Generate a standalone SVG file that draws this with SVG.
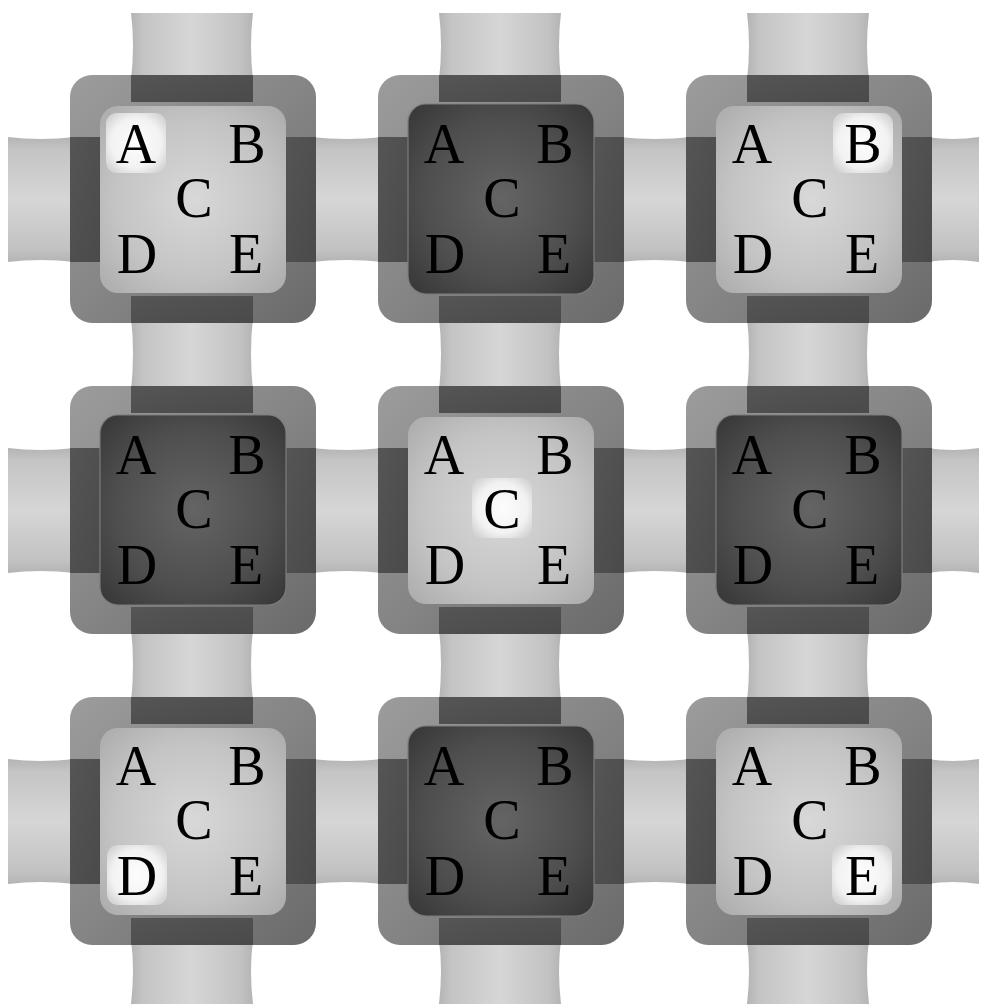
<svg xmlns="http://www.w3.org/2000/svg" xmlns:xlink="http://www.w3.org/1999/xlink" width="987" height="1004" viewBox="0 0 987 1004">
<style>
.lt{font-family:"Liberation Serif","Times New Roman",serif;font-size:56px;fill:#000;text-anchor:middle}
.tubeH{fill:url(#tubeGH)}
.tubeV{fill:url(#tubeGV)}
</style>
<defs>
<linearGradient id="tubeGH" x1="0" y1="0" x2="0" y2="1">
<stop offset="0" stop-color="#b4b4b4"/><stop offset="0.1" stop-color="#c4c4c4"/><stop offset="0.3" stop-color="#cdcdcd"/><stop offset="0.5" stop-color="#d6d6d6"/><stop offset="0.7" stop-color="#cccccc"/><stop offset="0.9" stop-color="#c2c2c2"/><stop offset="1" stop-color="#b4b4b4"/>
</linearGradient>
<linearGradient id="tubeGV" x1="0" y1="0" x2="1" y2="0">
<stop offset="0" stop-color="#b4b4b4"/><stop offset="0.1" stop-color="#c4c4c4"/><stop offset="0.3" stop-color="#cdcdcd"/><stop offset="0.5" stop-color="#d6d6d6"/><stop offset="0.7" stop-color="#cccccc"/><stop offset="0.9" stop-color="#c2c2c2"/><stop offset="1" stop-color="#b4b4b4"/>
</linearGradient>
<linearGradient id="outerG" x1="0" y1="0" x2="1" y2="1">
<stop offset="0" stop-color="#9c9c9c"/><stop offset="0.5" stop-color="#858585"/><stop offset="1" stop-color="#6a6a6a"/>
</linearGradient>
<linearGradient id="barG" x1="0" y1="0" x2="1" y2="1">
<stop offset="0" stop-color="#555"/><stop offset="1" stop-color="#4a4a4a"/>
</linearGradient>
<radialGradient id="innerL" cx="0.5" cy="0.5" r="0.7">
<stop offset="0" stop-color="#d8d8d8"/><stop offset="0.6" stop-color="#c4c4c4"/><stop offset="1" stop-color="#ababab"/>
</radialGradient>
<radialGradient id="innerD" cx="0.5" cy="0.5" r="0.7">
<stop offset="0" stop-color="#646464"/><stop offset="0.6" stop-color="#4e4e4e"/><stop offset="1" stop-color="#363636"/>
</radialGradient>
<radialGradient id="hiG" cx="0.5" cy="0.5" r="0.6">
<stop offset="0" stop-color="#fdfdfd"/><stop offset="0.7" stop-color="#f2f2f2"/><stop offset="1" stop-color="#d6d6d6"/>
</radialGradient>
<g id="frame">
<rect x="0" y="0" width="246" height="248" rx="22" fill="url(#outerG)"/>
<rect x="61" y="0" width="122" height="27" fill="url(#barG)"/>
<rect x="61" y="221" width="122" height="27" fill="url(#barG)"/>
<rect x="0" y="62" width="30" height="125" fill="url(#barG)"/>
<rect x="216" y="62" width="30" height="125" fill="url(#barG)"/>
</g>
<g id="lightTile">
<use xlink:href="#frame"/>
<rect x="30" y="31" width="186" height="187" rx="18" fill="url(#innerL)"/>
</g>
<g id="darkTile">
<use xlink:href="#frame"/>
<rect x="30" y="29" width="186" height="190" rx="18" fill="url(#innerD)" stroke="#7c7c7c" stroke-width="1.2"/>
</g>
<rect id="hi" x="-30" y="-30" width="60" height="60" rx="11" fill="url(#hiG)"/>
</defs>
<rect width="987" height="1004" fill="#fff"/>
<g id="connectors">
<path class="tubeH" d="M8,137 Q40,141 75,137 L75,262 Q40,258 8,262 Z"/>
<path class="tubeH" d="M311,137 Q347,141 383,137 L383,262 Q347,258 311,262 Z"/>
<path class="tubeH" d="M619,137 Q655,141 691,137 L691,262 Q655,258 619,262 Z"/>
<path class="tubeH" d="M927,137 Q953,141 979,137 L979,262 Q953,258 927,262 Z"/>
<path class="tubeH" d="M8,448 Q40,452 75,448 L75,573 Q40,569 8,573 Z"/>
<path class="tubeH" d="M311,448 Q347,452 383,448 L383,573 Q347,569 311,573 Z"/>
<path class="tubeH" d="M619,448 Q655,452 691,448 L691,573 Q655,569 619,573 Z"/>
<path class="tubeH" d="M927,448 Q953,452 979,448 L979,573 Q953,569 927,573 Z"/>
<path class="tubeH" d="M8,759 Q40,763 75,759 L75,884 Q40,880 8,884 Z"/>
<path class="tubeH" d="M311,759 Q347,763 383,759 L383,884 Q347,880 311,884 Z"/>
<path class="tubeH" d="M619,759 Q655,763 691,759 L691,884 Q655,880 619,884 Z"/>
<path class="tubeH" d="M927,759 Q953,763 979,759 L979,884 Q953,880 927,884 Z"/>
<path class="tubeV" d="M131,13 Q135,45 131,80 L253,80 Q249,45 253,13 Z"/>
<path class="tubeV" d="M131,318 Q135,352 131,391 L253,391 Q249,352 253,318 Z"/>
<path class="tubeV" d="M131,629 Q135,663 131,702 L253,702 Q249,663 253,629 Z"/>
<path class="tubeV" d="M131,940 Q135,970 131,1004 L253,1004 Q249,970 253,940 Z"/>
<path class="tubeV" d="M439,13 Q443,45 439,80 L561,80 Q557,45 561,13 Z"/>
<path class="tubeV" d="M439,318 Q443,352 439,391 L561,391 Q557,352 561,318 Z"/>
<path class="tubeV" d="M439,629 Q443,663 439,702 L561,702 Q557,663 561,629 Z"/>
<path class="tubeV" d="M439,940 Q443,970 439,1004 L561,1004 Q557,970 561,940 Z"/>
<path class="tubeV" d="M747,13 Q751,45 747,80 L869,80 Q865,45 869,13 Z"/>
<path class="tubeV" d="M747,318 Q751,352 747,391 L869,391 Q865,352 869,318 Z"/>
<path class="tubeV" d="M747,629 Q751,663 747,702 L869,702 Q865,663 869,629 Z"/>
<path class="tubeV" d="M747,940 Q751,970 747,1004 L869,1004 Q865,970 869,940 Z"/>
</g>
<g id="tile1" transform="translate(70,75)">
<use xlink:href="#lightTile"/>
<use xlink:href="#hi" x="66" y="68"/>
<text class="lt" x="66" y="88">A</text><text class="lt" x="177" y="88">B</text><text class="lt" x="124" y="142">C</text><text class="lt" x="67" y="198">D</text><text class="lt" x="176" y="198">E</text>
</g>
<g id="tile2" transform="translate(378,75)">
<use xlink:href="#darkTile"/>
<text class="lt" x="66" y="88">A</text><text class="lt" x="177" y="88">B</text><text class="lt" x="124" y="142">C</text><text class="lt" x="67" y="198">D</text><text class="lt" x="176" y="198">E</text>
</g>
<g id="tile3" transform="translate(686,75)">
<use xlink:href="#lightTile"/>
<use xlink:href="#hi" x="177" y="68"/>
<text class="lt" x="66" y="88">A</text><text class="lt" x="177" y="88">B</text><text class="lt" x="124" y="142">C</text><text class="lt" x="67" y="198">D</text><text class="lt" x="176" y="198">E</text>
</g>
<g id="tile4" transform="translate(70,386)">
<use xlink:href="#darkTile"/>
<text class="lt" x="66" y="88">A</text><text class="lt" x="177" y="88">B</text><text class="lt" x="124" y="142">C</text><text class="lt" x="67" y="198">D</text><text class="lt" x="176" y="198">E</text>
</g>
<g id="tile5" transform="translate(378,386)">
<use xlink:href="#lightTile"/>
<use xlink:href="#hi" x="124" y="122"/>
<text class="lt" x="66" y="88">A</text><text class="lt" x="177" y="88">B</text><text class="lt" x="124" y="142">C</text><text class="lt" x="67" y="198">D</text><text class="lt" x="176" y="198">E</text>
</g>
<g id="tile6" transform="translate(686,386)">
<use xlink:href="#darkTile"/>
<text class="lt" x="66" y="88">A</text><text class="lt" x="177" y="88">B</text><text class="lt" x="124" y="142">C</text><text class="lt" x="67" y="198">D</text><text class="lt" x="176" y="198">E</text>
</g>
<g id="tile7" transform="translate(70,697)">
<use xlink:href="#lightTile"/>
<use xlink:href="#hi" x="67" y="178"/>
<text class="lt" x="66" y="88">A</text><text class="lt" x="177" y="88">B</text><text class="lt" x="124" y="142">C</text><text class="lt" x="67" y="198">D</text><text class="lt" x="176" y="198">E</text>
</g>
<g id="tile8" transform="translate(378,697)">
<use xlink:href="#darkTile"/>
<text class="lt" x="66" y="88">A</text><text class="lt" x="177" y="88">B</text><text class="lt" x="124" y="142">C</text><text class="lt" x="67" y="198">D</text><text class="lt" x="176" y="198">E</text>
</g>
<g id="tile9" transform="translate(686,697)">
<use xlink:href="#lightTile"/>
<use xlink:href="#hi" x="176" y="178"/>
<text class="lt" x="66" y="88">A</text><text class="lt" x="177" y="88">B</text><text class="lt" x="124" y="142">C</text><text class="lt" x="67" y="198">D</text><text class="lt" x="176" y="198">E</text>
</g>
</svg>
